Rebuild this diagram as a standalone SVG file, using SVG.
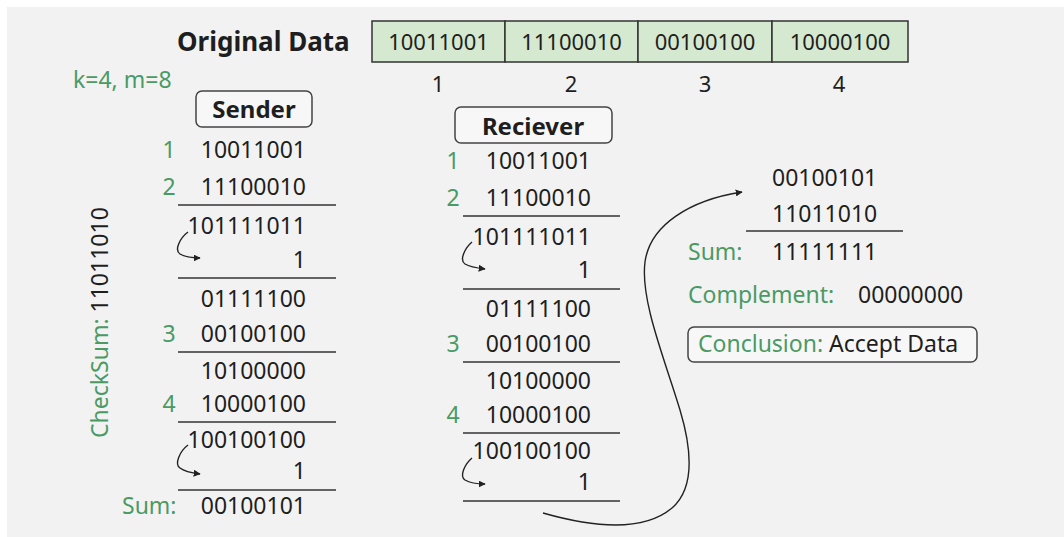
<svg xmlns="http://www.w3.org/2000/svg" width="1064" height="537" viewBox="0 0 1064 537">
<style>
text{font-family:"Noto Sans","Open Sans","DejaVu Sans",sans-serif;font-size:23px;fill:#1e1e1e}
.g{fill:#4a9a64}
.b{font-weight:bold}
.r{text-anchor:end}
.m{text-anchor:middle}
.ln{stroke:#333;stroke-width:1.5;fill:none}
.box{fill:#f7f7f7;stroke:#444;stroke-width:1.5}
.cell{fill:#d5e8d0;stroke:#333;stroke-width:1.5}
.arr{stroke:#222;stroke-width:1.4;fill:none;marker-end:url(#ah)}
</style>
<defs>
<marker id="ah" viewBox="0 0 10 10" refX="9" refY="5" markerWidth="7" markerHeight="7" orient="auto" markerUnits="userSpaceOnUse"><path d="M0,0 L10,5 L0,10 z" fill="#222"/></marker>
</defs>
<rect x="0" y="0" width="1064" height="537" fill="#ffffff"/>
<rect x="7" y="7" width="1057" height="530" fill="#f2f2f2"/>

<g id="original-data">
<text class="b" x="177" y="51" style="font-size:26px">Original Data</text>
<rect class="cell" x="372" y="21" width="133" height="41"/>
<rect class="cell" x="505" y="21" width="133" height="41"/>
<rect class="cell" x="638" y="21" width="134" height="41"/>
<rect class="cell" x="772" y="21" width="136" height="41"/>
<text class="m" x="438.5" y="50" style="font-size:22px">10011001</text>
<text class="m" x="571.5" y="50" style="font-size:22px">11100010</text>
<text class="m" x="705" y="50" style="font-size:22px">00100100</text>
<text class="m" x="840" y="50" style="font-size:22px">10000100</text>
<text class="m" x="438" y="92" style="font-size:22px">1</text>
<text class="m" x="571" y="92" style="font-size:22px">2</text>
<text class="m" x="705" y="92" style="font-size:22px">3</text>
<text class="m" x="839" y="92" style="font-size:22px">4</text>
</g>

<g id="params">
<text class="g" x="73" y="88">k=4, m=8</text>
</g>

<g id="sender">
<rect class="box" x="196" y="91" width="116" height="36" rx="6"/>
<text class="b m" x="254" y="118" style="font-size:24px">Sender</text>
<text class="g m" x="169" y="158">1</text>
<text class="r" x="306" y="158">10011001</text>
<text class="g m" x="169" y="195">2</text>
<text class="r" x="306" y="195">11100010</text>
<line class="ln" x1="178" y1="205" x2="336" y2="205"/>
<text class="r" x="306" y="234">101111011</text>
<text class="r" x="306" y="268">1</text>
<line class="ln" x1="178" y1="278" x2="336" y2="278"/>
<text class="r" x="306" y="307">01111100</text>
<text class="g m" x="169" y="342">3</text>
<text class="r" x="306" y="342">00100100</text>
<line class="ln" x1="178" y1="352" x2="336" y2="352"/>
<text class="r" x="306" y="379">10100000</text>
<text class="g m" x="169" y="412">4</text>
<text class="r" x="306" y="412">10000100</text>
<line class="ln" x1="178" y1="422" x2="336" y2="422"/>
<text class="r" x="306" y="448">100100100</text>
<text class="r" x="306" y="479">1</text>
<line class="ln" x1="178" y1="490" x2="336" y2="490"/>
<text class="g" x="122" y="514">Sum:</text>
<text class="r" x="306" y="514">00100101</text>
</g>

<g id="checksum">
<text transform="translate(108,438) rotate(-90)"><tspan class="g">CheckSum:</tspan> 11011010</text>
</g>

<g id="receiver">
<rect class="box" x="455" y="107" width="157" height="36" rx="6"/>
<text class="b m" x="533" y="135" style="font-size:24px">Reciever</text>
<text class="g m" x="453" y="169">1</text>
<text class="r" x="591" y="169">10011001</text>
<text class="g m" x="453" y="206">2</text>
<text class="r" x="591" y="206">11100010</text>
<line class="ln" x1="463" y1="216" x2="620" y2="216"/>
<text class="r" x="591" y="245">101111011</text>
<text class="r" x="591" y="278">1</text>
<line class="ln" x1="463" y1="289" x2="620" y2="289"/>
<text class="r" x="591" y="317">01111100</text>
<text class="g m" x="453" y="352">3</text>
<text class="r" x="591" y="352">00100100</text>
<line class="ln" x1="463" y1="362" x2="620" y2="362"/>
<text class="r" x="591" y="389">10100000</text>
<text class="g m" x="453" y="423">4</text>
<text class="r" x="591" y="423">10000100</text>
<line class="ln" x1="463" y1="433" x2="620" y2="433"/>
<text class="r" x="591" y="459">100100100</text>
<text class="r" x="591" y="490">1</text>
<line class="ln" x1="463" y1="501" x2="620" y2="501"/>
</g>

<g id="verification">
<text x="772" y="186">00100101</text>
<text x="772" y="222">11011010</text>
<line class="ln" x1="746" y1="231" x2="903" y2="231"/>
<text class="g" x="688" y="260">Sum:</text>
<text x="772" y="260">11111111</text>
<text class="g" x="688" y="303">Complement:</text>
<text x="858" y="303">00000000</text>
</g>

<g id="conclusion">
<rect class="box" x="688" y="327" width="289" height="35" rx="6"/>
<text x="698" y="352"><tspan class="g">Conclusion:</tspan> Accept Data</text>
</g>

<g id="connectors">
<path class="arr" d="M188,232 C180,238 174,250 180,254 C185,257 192,258 200,258"/>
<path class="arr" d="M188,445 C180,451 174,464 180,468 C185,472 192,473 200,474"/>
<path class="arr" d="M472,242 C465,248 459,260 465,264 C470,267 477,268 485,269"/>
<path class="arr" d="M472,458 C465,464 459,476 465,480 C470,483 477,484 485,484"/>
<path class="arr" d="M543,513 C585,525 640,535 672,508 C695,488 692,450 680,410 C665,360 640,300 645,262 C650,225 690,200 742,192"/>
</g>
</svg>
